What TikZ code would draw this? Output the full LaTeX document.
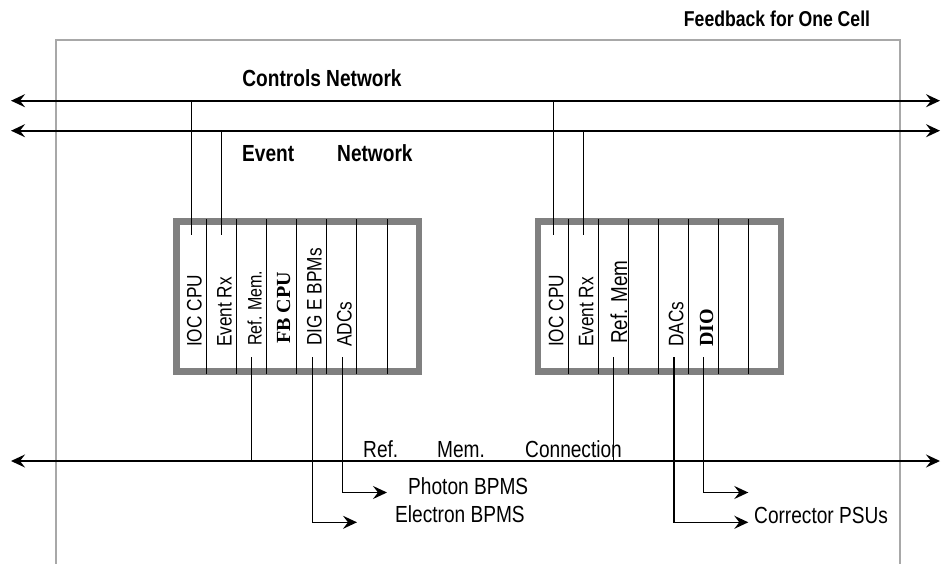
\documentclass[tikz,border=0pt]{standalone}
\usepackage{fontspec}
\usetikzlibrary{arrows.meta}
\newfontfamily\nar[FakeStretch=0.82]{Liberation Sans}
\newfontfamily\tms{Liberation Serif}
\definecolor{cratecol}{HTML}{808080}
\definecolor{framecol}{HTML}{A8A8A8}
\begin{document}
\begin{tikzpicture}[x=1pt,y=-1pt,
  tip/.tip={Stealth[length=14pt,width=13pt,inset=5pt]},
  net/.style={line width=1.7pt,tip-tip},
  wire/.style={line width=1.5pt},
  feed/.style={line width=1.5pt,-tip},
  crate/.style={draw=cratecol,line width=6.5pt},
  div/.style={line width=1.3pt},
  lab/.style={inner sep=0pt,font=\nar\fontsize{23.3}{26}\selectfont},
  blab/.style={inner sep=0pt,font=\nar\bfseries\fontsize{23.3}{26}\selectfont},
  slot/.style={rotate=90,anchor=base west,inner sep=0pt,font=\nar\fontsize{21}{24}\selectfont},
  tslot/.style={rotate=90,anchor=base west,inner sep=0pt,font=\tms\bfseries\fontsize{20}{24}\selectfont}]
\path[use as bounding box] (0,0) rectangle (941,564);

% outer frame
\draw[framecol,line width=2pt] (56,570) -- (56,40) -- (900,40) -- (900,570);

% title and network labels
\node[blab,anchor=base,font=\nar\bfseries\fontsize{21.5}{24}\selectfont] (title) at (777,27) {Feedback for One Cell};
\node[blab,anchor=base] (ctrl) at (322,87) {Controls Network};
\node[blab,anchor=base west] (evt) at (242,162) {Event};
\node[blab,anchor=base west] (evtnet) at (337,162) {Network};

% networks
\coordinate (cL) at (11,100.7); \coordinate (cR) at (940,100.7);
\coordinate (eL) at (11,130.7); \coordinate (eR) at (940,130.7);
\coordinate (rL) at (11,461);   \coordinate (rR) at (940,461);
\draw[net] (cL) -- (cR);
\draw[net] (eL) -- (eR);
\draw[net] (rL) -- (rR);

% crates
\coordinate (c1nw) at (176.3,221.5); \coordinate (c1se) at (419,371.5);
\coordinate (c2nw) at (538,221.5);   \coordinate (c2se) at (781,371.5);
\draw[crate] (c1nw) rectangle (c1se);
\draw[crate] (c2nw) rectangle (c2se);
\foreach \x in {206.7,236.7,266.7,296.7,326.7,356.7,387.3}
  \draw[div] (\x,219) -- (\x,374);
\foreach \x in {568.3,598.3,628.3,658.3,688.3,718.3,748.3}
  \draw[div] (\x,219) -- (\x,374);

% slot labels crate 1
\node[slot] (s1a) at (201.7,347) {IOC CPU};
\node[slot] (s1b) at (231.7,347) {Event Rx};
\node[slot,font=\nar\fontsize{19.5}{24}\selectfont] (s1c) at (261.7,346) {Ref. Mem.};
\node[tslot] (s1d) at (290,344) {FB CPU};
\node[slot] (s1e) at (321.7,346) {DIG E BPMs};
\node[slot] (s1f) at (351.7,347) {ADCs};
% slot labels crate 2
\node[slot] (s2a) at (563.3,347) {IOC CPU};
\node[slot] (s2b) at (593.3,347) {Event Rx};
\node[slot,font=\nar\fontsize{23}{26}\selectfont] (s2c) at (627,344) {Ref. Mem};
\node[slot] (s2e) at (683.3,347) {DACs};
\node[tslot] (s2f) at (713,347) {DIO};

% top connections
\coordinate (ioc1) at (191.7,100.7); \coordinate (ioc1b) at (191.7,235);
\coordinate (evr1) at (221.7,130.7); \coordinate (evr1b) at (221.7,235);
\coordinate (ioc2) at (553.3,100.7); \coordinate (ioc2b) at (553.3,235);
\coordinate (evr2) at (583.3,130.7); \coordinate (evr2b) at (583.3,235);
\draw[wire] (ioc1) -- (ioc1b);
\draw[wire] (evr1) -- (evr1b);
\draw[wire] (ioc2) -- (ioc2b);
\draw[wire] (evr2) -- (evr2b);

% bottom connections
\coordinate (rm1) at (251.7,357); \coordinate (rm1b) at (251.7,461);
\coordinate (rm2) at (613.3,357); \coordinate (rm2b) at (613.3,461);
\draw[wire] (rm1) -- (rm1b);
\draw[wire] (rm2) -- (rm2b);
\coordinate (dig) at (312.7,357); \coordinate (digT) at (357,522.3);
\coordinate (adc) at (342.7,357); \coordinate (adcT) at (387,492.5);
\coordinate (dac) at (674,357);   \coordinate (dacT) at (748.3,522.3);
\coordinate (dio) at (703.3,357); \coordinate (dioT) at (748.3,492.5);
\draw[feed] (dig) |- (digT);
\draw[feed] (adc) |- (adcT);
\draw[feed] (dac) |- (dacT);
\draw[feed] (dio) |- (dioT);

% lower labels
\node[lab,anchor=base west] (rf) at (363,457) {Ref.};
\node[lab,anchor=base west] (rmm) at (437,457) {Mem.};
\node[lab,anchor=base west] (rcon) at (525,457) {Connection};
\node[lab,anchor=base west] (pho) at (408,494) {Photon BPMS};
\node[lab,anchor=base west] (ele) at (395,522) {Electron BPMS};
\node[lab,anchor=base west] (cor) at (754,523) {Corrector PSUs};
\end{tikzpicture}
\end{document}
